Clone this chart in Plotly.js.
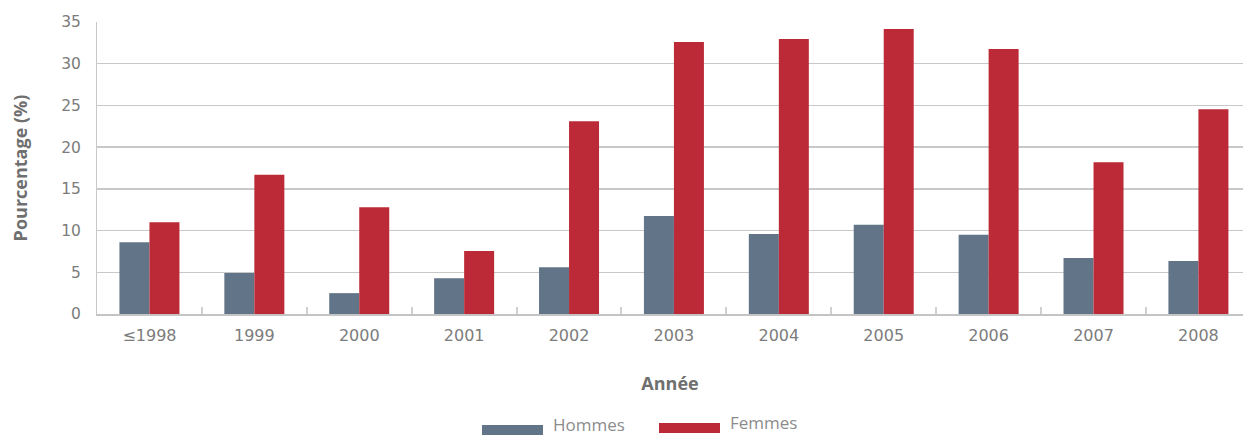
<!DOCTYPE html>
<html>
<head>
<meta charset="utf-8">
<script src="https://cdn.plot.ly/plotly-3.0.1.min.js"></script>
<style>html,body{margin:0;padding:0;background:#fff;}#chart{width:1243px;height:435px;}</style>
</head>
<body>
<div id="chart"></div>
<script>
const years = ["≤1998","1999","2000","2001","2002","2003","2004","2005","2006","2007","2008"];
const hommes = [8.6, 4.9, 2.5, 4.3, 5.6, 11.75, 9.6, 10.7, 9.5, 6.7, 6.35];
const femmes = [11.0, 16.7, 12.8, 7.55, 23.1, 32.6, 32.95, 34.15, 31.75, 18.2, 24.55];
const seriesNames = ["Hommes", "Femmes"];
const colors = ["#627488", "#bc2a37"];

const W = 1243, H = 435;
const L = 97, T = 22, B = 121, R = 0;
const pw = W - L - R, ph = H - T - B;
const px = x => (x - L) / pw;
const py = y => (H - B - y) / ph;

const traces = [
  {type: "bar", name: seriesNames[0], x: years, y: hommes, marker: {color: colors[0]}, hoverinfo: "x+y"},
  {type: "bar", name: seriesNames[1], x: years, y: femmes, marker: {color: colors[1]}, hoverinfo: "x+y"}
];

const tickFont = {family: "DejaVu Sans, Verdana, sans-serif", size: 16, color: "#7c7c7c"};
const titleFont = {family: "Open Sans, sans-serif", size: 18, color: "#6f6f6f", weight: "bold"};
const legFont = {family: "Open Sans, sans-serif", size: 17, color: "#8c8c8c"};

const layout = {
  width: W, height: H,
  margin: {l: L, r: R, t: T, b: B, pad: 0},
  paper_bgcolor: "#ffffff", plot_bgcolor: "#ffffff",
  showlegend: false,
  barmode: "group", bargap: 0.428, bargroupgap: 0,
  xaxis: {
    type: "category",
    range: [-0.5, 10.425],
    showline: true, linecolor: "#c4c4c4", linewidth: 2,
    ticks: "inside", tickson: "boundaries", ticklen: 7, tickcolor: "#d0d0d0", tickwidth: 2,
    showgrid: false,
    tickfont: tickFont,
    ticklabelstandoff: 6,
    title: {text: "Année", font: titleFont, standoff: 33},
    automargin: false
  },
  yaxis: {
    range: [0, 35], dtick: 5, tick0: 0,
    showline: true, linecolor: "#c8c8c8", linewidth: 1,
    showgrid: true, gridcolor: "#c8c8c8", gridwidth: 1.5,
    zeroline: false,
    ticks: "", tickfont: Object.assign({}, tickFont, {size: 15.5}),
    ticklabelstandoff: 12,
    title: {text: "Pourcentage (%)", font: titleFont, standoff: 28},
    automargin: false
  },
  shapes: [
    {type: "rect", xref: "paper", yref: "paper", x0: px(482), x1: px(543), y0: py(435), y1: py(425), fillcolor: colors[0], line: {width: 0}},
    {type: "rect", xref: "paper", yref: "paper", x0: px(659), x1: px(720), y0: py(433), y1: py(423), fillcolor: colors[1], line: {width: 0}}
  ],
  annotations: [
    {xref: "paper", yref: "paper", x: px(552), y: py(437), xanchor: "left", yanchor: "bottom", text: seriesNames[0], showarrow: false, font: legFont, borderpad: 0},
    {xref: "paper", yref: "paper", x: px(729), y: py(435), xanchor: "left", yanchor: "bottom", text: seriesNames[1], showarrow: false, font: legFont, borderpad: 0}
  ]
};

Plotly.newPlot("chart", traces, layout, {displayModeBar: false, staticPlot: true});
</script>
</body>
</html>
